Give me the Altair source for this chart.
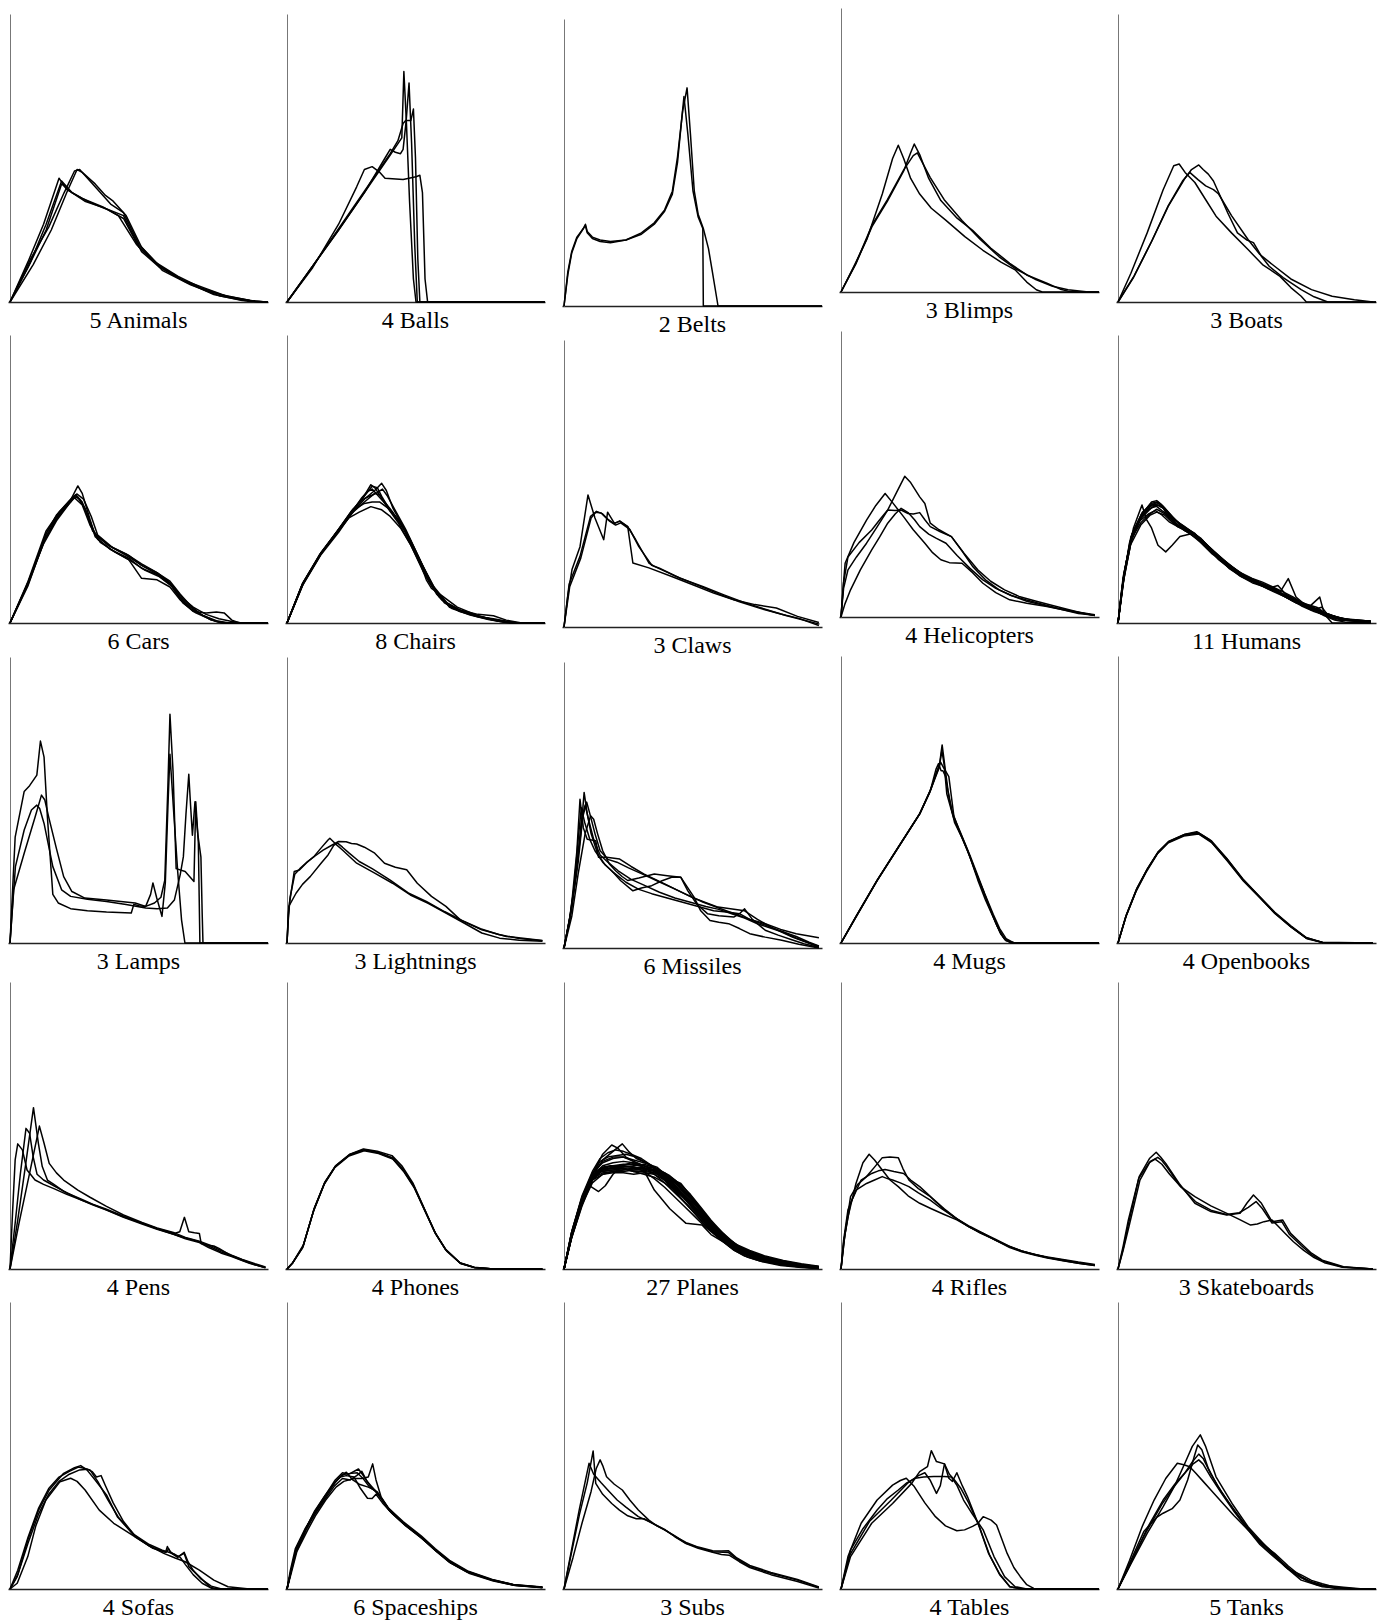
import altair as alt
import pandas as pd

# ---- curve data: (x in % of axis length, y in % of axis height) ----
ANIMALS = [
    [(0,0),(7,14),(13,27),(19,43),(22,39),(28,36),(36,33),(42,30),(49,20),(56,14),(65,9),(74,5),(82,2.5),(93,0.5),(99,0)],
    [(0,0),(8,14),(14,27),(20,42),(24,38),(30,35),(38,32),(44,29),(50,19),(57,13),(66,8),(75,5),(84,2),(95,0.3),(100,0)],
    [(0,0),(8,15),(15,26),(21,38),(25,45.5),(27,46),(31,42),(35,38),(39,34),(44,31),(50,20),(58,12.5),(68,7),(79,2.6),(90,0.5),(100,0)],
    [(0,0),(9,13),(16,25),(22,38),(26,46),(28,45),(33,41),(37,37),(40,35),(45,30),(51,19),(59,11),(70,6),(81,2.2),(92,0.3),(100,0)],
    [(0,0),(7,12),(14,25),(20,41),(24,38),(29,35),(37,32.5),(44,30),(51,17.5),(58,12),(67,7.5),(76,4),(86,1.5),(95,0.2),(100,0)],
]
BALLS = [
    [(0,0),(10,12),(20,27),(27,40),(30,46),(33,47),(36,45),(38,43),(45,42.5),(50,43.5),(51.5,44),(52.5,38),(53.5,8),(54.5,0),(100,0)],
    [(0,0),(10,12.5),(20,25),(30,38),(40,51),(43,55),(44.5,57),(45.3,80),(46.3,62),(47.5,35),(49,8),(50,0),(100,0)],
    [(0,0),(10,12.5),(20,25),(30,38),(38,50),(40,53),(42,52),(44,51.5),(45,53),(46.2,63),(47.3,76),(48.3,55),(49.5,20),(50.5,0),(100,0)],
    [(0,0),(10,12.5),(20,25.5),(30,38.5),(40,51.5),(43,56),(45,62),(46,63),(48,63),(49,67),(49.8,50),(50.7,15),(51.5,0),(100,0)],
]
BELTS = [
    [(0,0),(1.5,12),(3,19),(5,24),(7.5,27),(8.3,28.5),(9,26),(11,24),(14,23),(18,22.5),(24,23),(30,25),(35,28.5),(39,33),(42,39),(44,50),(45.5,64),(46.5,73),(48,60),(50,40),(52,31),(53.8,27),(54,0),(100,0)],
    [(0,0),(1.5,11),(3,18.5),(5,23.5),(7.5,27),(8.3,28),(9,25.5),(11,23.5),(14,22.5),(18,22),(24,23),(30,25.5),(35,29),(39,33.5),(42,40),(44,52),(46,68),(47.7,76),(49,60),(50.5,40),(52,32),(54,27),(56,20),(57.5,12),(59.7,0),(100,0)],
]
BLIMPS = [
    [(0,0),(5,9),(10,18.5),(16,34.5),(20,47),(22.2,51.7),(24.3,47),(27,40),(30.5,34.5),(35,29.5),(40.7,25.2),(48,19.5),(55,14.7),(62,10.5),(67.5,7.8),(72,3.5),(75.7,0.8),(78,0),(100,0)],
    [(0,0),(5.8,10),(12,23),(18,32),(24.3,42.6),(27,49),(28.4,52.1),(30.5,48.4),(34,40),(38.7,32.2),(45,26),(51,21.7),(58,15.5),(65.4,10.1),(72,6),(79.8,3.1),(85,1),(88,0.3),(92,0),(100,0)],
    [(0,0),(5.8,10.2),(12,23.5),(18,32.5),(24.3,43),(28,48),(29.6,49),(31,46.5),(34.6,40.3),(40,32.5),(46.9,25.2),(54,18.5),(61.3,12.4),(68,8),(75.7,4.3),(82,2),(88,0.8),(95,0.1),(100,0)],
]
BOATS = [
    [(0,0),(5,10),(11.3,24),(17.5,39),(21.6,47.3),(23.7,47.9),(26,45),(29.8,41.5),(34,35.5),(38,29.8),(44,24),(50.4,18.2),(56,13),(62.8,8.9),(67,5),(71,2),(73,0),(100,0)],
    [(0,0),(6.2,9),(13.4,21.7),(19.5,33.3),(25.7,42.6),(28.5,46),(31.3,47.6),(33,46),(35,44.4),(37,42),(39,38),(42.5,31),(46.3,24),(50,21.5),(52.5,20.6),(55.5,16),(58.6,12.4),(64,8.5),(71,4.3),(76,1.8),(81.3,0),(100,0)],
    [(0,0),(6,8.5),(13,21),(19.5,33.5),(25,42),(27.8,45),(31,42.5),(34,40.3),(37,39),(39,37.5),(44,30),(50.4,21.7),(55,16.5),(60.7,12.4),(67,8),(75,4.3),(83,2),(91.6,0.8),(98.8,0)],
]
CARS = [
    [(0,0),(7,14),(14,31),(18,37.5),(23.5,42.7),(26.3,47.6),(28,45),(31,36),(33,30.5),(39,26.5),(46,23.5),(51,20),(57,17.5),(62,14),(66,9),(70,5.5),(75,2.5),(80,0.5),(84,0),(100,0)],
    [(0,0),(7,13.5),(14,30),(18,36.5),(23.5,42),(25,44),(27,43),(30,38),(33,30),(39,25.5),(46,22.5),(51,19),(57,16.8),(62,13.5),(66,8.5),(70,5),(75,2.5),(80,0.8),(85,0),(100,0)],
    [(0,0),(7,13.8),(14,31),(18,37),(23.5,42.5),(25.5,44.5),(28,42),(31,35),(34,29),(40,25),(46,22),(51,15.5),(57,15),(62,12.5),(66,8),(71,4),(76,3.5),(80,3.8),(83,3.5),(86,1),(89,0),(100,0)],
    [(0,0),(7,13),(13,28),(18,36),(24,43),(26,44),(29,40),(32,32),(38,27),(45,24),(51,20.5),(56,18),(62,14.5),(66,10),(70,6),(74,3),(78,1),(83,0),(100,0)],
    [(0,0),(6,12),(13,27.5),(18,35.5),(23,41.5),(25,43.5),(28,41),(31,34),(35,28),(41,24.5),(47,21.5),(52,18.5),(58,16),(63,12.5),(67,7),(72,3.5),(77,1.5),(82,0),(100,0)],
    [(0,0),(7,14.5),(14,32),(19,38.5),(24,43.5),(26,44.8),(28.5,43),(31.5,37),(34,30.5),(40,26),(46,23),(52,19.5),(58,16.5),(63,13),(67,8.5),(71,5.5),(76,3),(81,1.5),(86,0.5),(90,0),(100,0)],
]
CHAIRS = [
    [(0,0),(6,13.7),(13,24),(20,32.3),(25.6,39.3),(29.8,44),(32.5,48),(34,47),(37,43),(41,38.5),(46,31.5),(52,20.5),(57.5,11.5),(63,5.5),(69,3.8),(75,2),(82,0.6),(89,0),(100,0)],
    [(0,0),(6.5,14),(13.5,24.5),(20.5,32.5),(26,39),(30,43),(34,46),(36.7,48.5),(38.5,46),(41,40),(45,33.5),(50,24),(55,14.5),(60,8),(66,4.5),(73,2.5),(80,1),(88,0),(100,0)],
    [(0,0),(6,13),(13,23.5),(20,31.5),(25,38),(30,42),(34,45),(36,44.5),(39,40),(43,35),(48,27),(53,17.5),(58,10),(64,5),(71,2.8),(78,1.2),(86,0),(100,0)],
    [(0,0),(6,13.5),(13,24),(19,31),(24,36.5),(28,38.5),(32.5,40.4),(36.7,39.3),(40,37),(44,33),(48,27),(52,20),(54,15),(56,12),(60,9.5),(66,5.5),(74,2.5),(82,0.8),(90,0),(100,0)],
    [(0,0),(6.3,13.8),(13.3,24.2),(20,32.5),(25.5,39),(29,43.5),(31,45.5),(33,46.5),(35.5,44),(38,41.5),(42,37),(46.5,31),(51.5,22),(56,13.5),(61,7.5),(67,4.5),(74,3),(80,2.5),(85,1),(91,0),(100,0)],
    [(0,0),(5.8,13),(13,23.8),(19.5,31.8),(25,38.5),(29.5,43.5),(33,47.5),(35,47),(37,43.5),(40,39),(44,35),(49,25.5),(54,16),(59,9),(64,5.3),(70,3.4),(77,1.8),(84,0.4),(90,0),(100,0)],
    [(0,0),(6,13.5),(12.5,23.5),(19.5,32),(25,38.8),(30,41.5),(33,42),(36,42),(39,40),(43,36),(47.5,29.5),(52,21),(57,12.5),(62,7),(68,4),(75,2.2),(83,0.5),(90,0),(100,0)],
    [(0,0),(6.2,14),(13.2,24.5),(20,32.5),(25.5,39.5),(29.5,43),(32,44),(34.5,45),(37,46.5),(39,44),(42,39),(46,32.5),(51,23),(56,13),(61,7),(67,4),(74,2.2),(80,1.5),(88,0.2),(100,0)],
]
CLAWS = [
    [(0,0),(1.5,11),(3.1,20),(6.2,28),(9.3,46),(12,38),(15.4,30.4),(16.9,40),(19.5,36.2),(21.6,36.8),(24.7,35),(26.7,22.3),(32.9,20.6),(42,17.5),(51.4,14.2),(58,11.8),(65.8,9.5),(74,7.8),(82.3,6.6),(90.5,3.7),(98.8,1.6)],
    [(0,0),(2,15),(6.2,24.6),(10.3,38.6),(12.3,40),(14.4,39.7),(17,37.5),(19.5,36),(21.6,37),(24.7,35),(27.8,30.4),(32.9,22.3),(35,21.1),(43,17.8),(52,14.5),(60,11.5),(68,8.8),(76,6.5),(84,4.5),(91,3),(98.8,0.5)],
    [(0,0),(2.2,14),(6.5,24),(10.5,38),(12.6,40.3),(14.8,39.5),(17.5,37),(20,35.5),(22,36.3),(25.5,34),(29,28),(34,21.5),(37,20.5),(45,17),(54,14),(62,11.2),(70,8.5),(78,6.2),(86,4),(92,2.6),(99,1)],
]
HELICOPTERS = [
    [(0,0),(1,10),(2.7,16.5),(6,21),(9.9,25.8),(14,31.5),(18.1,37.4),(21.5,43.5),(24.7,49.2),(27,47),(30.5,42),(32.5,39.7),(34.6,32.8),(38,30.5),(42.8,28.1),(47,23),(51,17.7),(56,13),(61.3,9.5),(66,7.5),(71.6,6),(78,4.5),(84,3.1),(91,1.8),(98.4,0.8)],
    [(0,0),(0.8,10),(1.6,18.8),(5,26),(9.9,33.9),(13.5,39),(17.1,43.2),(20,40),(24.3,35),(28,30.5),(32.5,25.8),(35.5,22.5),(38.7,20),(42,19),(46.9,18.8),(51,15.5),(55,11.8),(60,8.5),(65.4,6),(72,4.8),(79.8,3.7),(88,2.2),(98.4,0.5)],
    [(0,0),(1,12),(2.7,21),(7,26),(11.9,30.4),(15,34),(18.1,37.4),(21,37.2),(23.3,37.4),(26,36.2),(28,36),(30.5,36.5),(32.5,34),(34.6,31.6),(38.5,29.8),(42.8,28.1),(47.5,22.5),(53,16.5),(58,12.5),(63.4,9.5),(69,7.2),(75.7,5.5),(82,4),(88,2.6),(93,1.5),(98.4,0.5)],
    [(0,0),(1.5,4.5),(3.7,9.5),(7.5,16.5),(11.9,23.5),(15,28),(18.1,32.8),(21,36),(23.3,38),(26,36.5),(28.5,34),(30.5,31.6),(34,29),(37,27.5),(40.7,25.8),(45,21.5),(50,17),(55,13),(60,10),(66,7.5),(72,5.5),(79,4),(86,2.5),(92,1.2),(98.4,0.6)],
]
HUMANS = [
    [(0,0),(2,15),(5,30),(9,37),(13,41),(15.5,42),(18,40),(21,37),(25,33.5),(29.8,31.1),(34,27),(38,23),(42,20),(46.3,17.2),(50,15.5),(54.5,13.7),(58,12),(62.8,10.2),(67,8.5),(71,6.7),(75,5),(79,3.3),(83,2),(87.4,1.2),(97.7,0.5)],
    [(0,0),(3,20),(6,33),(9.3,41),(11,36),(13,33),(15.5,27),(18.5,24.7),(21,27),(24,30),(28.8,31.1),(32,28.5),(36,25),(41,21),(46,18),(51,15),(56,13),(61,11),(66,8.5),(71,6),(76,4),(81,2.5),(86,1.5),(92,1),(98,0.6)],
    [(0,0),(2.5,18),(5.5,31),(9,36.5),(12,39.5),(15,41),(17.5,40),(20,36),(23,33.5),(27,32),(31,30),(35,26),(39,22),(44,18.5),(49,16),(54,14),(59,12.5),(63,11),(66,15.4),(69,9),(73,6),(78,4),(83,2.5),(90,1),(98,0.7)],
    [(0,0),(2,16),(5,29),(9,35),(12.5,38),(15,39.5),(18,38),(22,35),(26,32),(30,30.5),(34,27.5),(39,23.5),(44,19.5),(49,16.5),(54,14.5),(59,12),(64,9.5),(69,7),(74,5.5),(78.2,9),(80,3),(83,0),(98,0)],
    [(0,0),(2,14),(5,28),(9.5,38),(13,42),(15,42.5),(17,41),(20,38),(24,34),(28,31.5),(32,29),(37,24.5),(42,20),(47,16.5),(52,14),(57,12.5),(62,10.5),(67,8),(72,6),(77,4),(82,3),(86,1.5),(91,1.2),(98,0.6)],
    [(0,0),(2.5,17),(6,32),(9.5,38.5),(13,41),(16,41.5),(18.5,39),(21.5,36),(25,34),(29,31.5),(33,28.5),(37.5,24.5),(42.5,20.5),(47.5,17.5),(52,15.5),(56,14.2),(60,12.5),(64,10.8),(68,9),(72,6.5),(76,4.5),(80,2.5),(84,1),(88,0.3),(98,0)],
    [(0,0),(1.5,12),(4.5,28),(8.5,35.5),(12,38),(14.5,39),(17,37.5),(20,35),(24,33),(28,31),(32,28),(36.5,24),(41,21),(46,18),(51,15.5),(55,14),(59,12.5),(63,10),(67,8.5),(71,7),(75,4.5),(79,5.5),(82,2),(85,1),(92,0.6),(98,0.3)],
    [(0,0),(2.2,16),(5.3,30),(9,37.5),(12.5,40.5),(15.5,41),(18,39.5),(21,36.5),(24.5,34),(28.5,31.5),(33,28),(38,23.5),(43,19),(48,16),(53,14),(58,12),(62,13),(65,10),(69,8),(73,6.5),(77,5.5),(81,3),(85,2),(90,1),(98,0.5)],
    [(0,0),(2,15),(5,29.5),(9,36.5),(13,40),(15,40.5),(17,39),(19.5,37.5),(23,34),(27,31.5),(31,29),(35.5,25.5),(40,22),(45,18.5),(50,15.5),(55,13.2),(60,11),(65,9),(70,7),(74,5),(78,3.5),(82,2.2),(86,1.2),(91,0.7),(98,0.4)],
    [(0,0),(2.3,17),(5.5,31),(9.2,38),(12.8,41.5),(15,42),(17.5,40.5),(20.5,37),(24,34.5),(28,32),(32,29.5),(36.5,25),(41.5,21.5),(46.5,18),(51.5,15),(56,13.3),(60.5,11.5),(65,9.5),(69.5,7.5),(74,5.8),(78.5,4),(82.5,2.8),(86.5,1.7),(92,0.8),(98,0.3)],
    [(0,0),(1.8,13),(4.8,27),(8.8,34),(12.5,37.5),(15,38.5),(18,37.5),(21,35),(25,33),(29,31),(33,28.5),(37.5,24.5),(42,21),(47,17.5),(52,15),(56.5,13.5),(61,11.5),(65.5,9.5),(70,7.5),(74.5,6),(79,4),(83,2.5),(87,1.5),(93,0.8),(98,0.4)],
]
LAMPS = [
    [(0,0),(2,37),(5.5,53),(7.6,55),(10.4,58.7),(11.8,70.6),(13.2,65),(14.5,44),(16.6,17),(18.7,14),(23.5,12),(30,11.3),(37.4,10.8),(47,10.5),(48,13.5),(50,13),(52.6,12.8),(54.5,17),(55.4,21),(56.8,16),(58.9,9.3),(60.2,21),(61.3,50),(62,66),(63.5,45),(65,25),(66.5,8),(67.8,0),(100,0)],
    [(0,0),(2.1,26.7),(5.5,39.5),(8.3,46.5),(10.4,48.2),(11.5,47),(13.2,41.8),(16.6,26.7),(20,18.6),(23.5,16.3),(30,15.3),(37.4,14.5),(45,13.5),(52.6,12.2),(57,12),(61,12.2),(63.7,15),(66,24),(67.2,30.2),(68.2,45),(69.3,59),(70,48),(70.7,37.7),(71.7,49.4),(72.8,38),(74,30),(74.5,10),(74.8,0),(100,0)],
    [(0,0),(1.4,18.6),(5.5,31.4),(9.7,44),(12.2,51.7),(13.5,50),(15,44),(18,33),(20.8,23.2),(24,18),(29,15.7),(37.4,15),(48.5,14),(52.6,12.8),(56,14),(58.5,16),(60,22),(61.2,55),(62,80),(63.2,60),(64.4,26),(67.9,25),(71.3,21.5),(72,49.4),(73,35),(73.6,0),(100,0)],
]
LIGHTNINGS = [
    [(0,0),(0.5,8),(1,14),(2.8,25),(4.8,25.5),(7.5,28),(10.4,30.2),(13,33),(15.9,36),(16.6,36.6),(19,34.5),(21.5,32.5),(27,27.9),(34,24.4),(40.9,20.9),(47.8,16.8),(54.7,13.9),(61.6,10.5),(68.6,7),(75.5,3.5),(82.4,1.7),(90,1),(99,0.6)],
    [(0,0),(0.5,10),(1.2,16),(3,24),(5,26),(8,28.5),(11,30.5),(14,32.5),(17,34),(20,35.5),(22.9,35.4),(25,34.8),(27,34.6),(30,33.5),(34,31.4),(37.8,27.9),(42,26.5),(46.4,25.6),(50.5,20.9),(56,16.3),(61.6,12.8),(67.2,8.1),(75.5,4.6),(85,2.3),(99,0.9)],
    [(0,0),(0.7,12.8),(3.5,17.4),(6,20.5),(9,23.2),(13.2,27.9),(15.9,30.8),(18,34),(19.5,35),(21.5,33.5),(24,31.5),(28,28.5),(33,26),(40,22),(47,17.5),(54,14.5),(61,11),(68,7.8),(75,5),(82,3),(90,1.6),(99,0.8)],
]
MISSILES = [
    [(0,0),(2,9),(3.1,16.6),(5,34),(6.2,52),(7.5,42),(9,38),(12.3,37.5),(13.4,31.7),(16.5,31.7),(21.6,31.1),(26,28.5),(30.9,25.9),(39,22.4),(49.4,17.8),(59.7,14.3),(70,13),(75,10),(80.2,7.3),(88.5,3.8),(98.8,0.3)],
    [(0,0),(2.5,12),(4.5,25),(6.5,40),(7.8,54.4),(9,47),(10.5,40),(13,33),(16,29),(18.5,27),(22,23.5),(26.7,20),(30,21),(34,21.8),(38,23.5),(42,24.8),(45.3,24.7),(48,21),(50.4,17.8),(53,13),(56.6,9.6),(60,9),(63.8,8.5),(68,6.8),(72,5),(78,3.8),(84.4,2.7),(91,1.3),(98.8,0)],
    [(0,0),(3,11),(5.5,26),(8.2,40),(10.3,46.2),(11.5,45),(13,40),(15,34),(17.5,29.5),(20,27),(22.5,25),(24.7,23.6),(29,24.5),(35,25.9),(40,25.3),(45.3,24.7),(48,20),(51.4,15.4),(55.6,12),(60,11.3),(65.8,10.8),(68,12),(70,13.7),(73,10),(78,6.2),(83,4.5),(88,3),(93,1.5),(98.8,0.2)],
    [(0,0),(2.2,10),(4,22),(5.5,38),(6.7,49),(8,44),(10,38),(12,34),(15,30),(19,26.5),(24,23),(29,20.5),(34,19),(40,17.5),(46,16),(52,14.5),(58,13),(64,12.5),(68,12),(72,10),(78,8.5),(84,6.5),(90,5),(95,4.2),(98.8,3.6)],
    [(0,0),(2.8,13),(4.8,27),(6.8,45),(8.2,50),(9.5,45),(11.5,38),(14,32.5),(17,30),(21,27),(26,24),(31,22),(37,19.5),(43,17.5),(49,16),(55,14.5),(60,13.5),(65,12),(70,10.5),(75,8.5),(80,7),(85,5.5),(90,3.5),(95,1.8),(98.8,0.5)],
    [(0,0),(3,14),(5.5,30),(7.3,46),(8.8,51),(10,47),(12,40),(14,34),(17,31),(20.5,30),(25,28),(30,26),(36,23.5),(42,21),(48,18.5),(54,16),(60,14),(66,12),(72,10),(78,8),(84,6),(90,4),(95,2),(98.8,0.7)],
]
MUGS = [
    [(0,0),(5.8,9.1),(14,21.8),(22.2,33.4),(30.5,45),(34.6,53.2),(37,59),(38.1,61.3),(39.1,67.1),(40,62),(41,52),(43.5,44),(46,38.5),(49,32.3),(52,25),(55.1,18.4),(58,11.5),(60,7),(62,3),(64,0.8),(67.5,0),(100,0)],
    [(0,0),(5.8,9),(14,21.7),(22.2,33.3),(30.5,45),(34.6,53),(36.8,60.5),(37.8,62.5),(38.8,60),(39.5,60),(40.5,58),(42,50),(44,42),(47,36.5),(50,30),(53,22),(56,15),(59,9),(61.5,4),(63.5,1.2),(66,0),(100,0)],
    [(0,0),(6,9.5),(14.2,22.2),(22.5,33.8),(30.7,45.3),(34.8,53.5),(37.2,60),(38.6,63),(39.8,61),(41.8,58),(43.8,43.9),(47,37),(50,30.5),(53,23.5),(56,16.5),(59,10),(61.5,5),(64,1.5),(67,0),(100,0)],
    [(0,0),(5.7,9),(13.8,21.5),(22,33),(30.3,44.7),(34.4,52.5),(36.5,57.5),(38,61),(39.2,69),(40.2,62),(41.5,53),(43,46),(45.5,40),(48.5,33.5),(51.5,26.5),(54.5,19.5),(57.5,12.5),(60.5,6),(63,2),(65.5,0.3),(68,0),(100,0)],
]
OPENBOOKS = [
    [(0,0),(3.1,9.3),(7.2,18.6),(11.3,25.6),(15.4,31.4),(19.5,35.1),(25.7,37.6),(30.9,38.3),(36,35.4),(42.2,29),(48.4,22),(54.5,16.3),(60.7,10.5),(66.9,5.8),(73,1.7),(79.2,0.2),(98.8,0)],
    [(0,0),(3.3,10),(7.4,19.2),(11.5,26),(15.6,31.8),(19.8,35.5),(26,37.9),(30.5,38.8),(35.5,36),(42,29.6),(48.2,22.4),(54.3,16.6),(60.5,10.8),(66.6,6),(72.8,1.9),(79,0.3),(98.8,0)],
    [(0,0),(2.9,8.8),(7,18),(11.1,25),(15.2,31),(19.3,34.8),(25.5,37.3),(31.2,38),(36.3,35),(42.4,28.6),(48.6,21.6),(54.7,16),(60.9,10.2),(67.1,5.5),(73.2,1.5),(79.4,0.2),(98.8,0)],
    [(0,0),(3.2,9.6),(7.3,18.9),(11.4,25.8),(15.5,31.6),(19.6,35.3),(25.8,37.8),(31,38.5),(36.1,35.7),(42.3,29.3),(48.5,22.2),(54.6,16.5),(60.8,10.7),(67,6),(73.1,1.8),(79.3,0.2),(98.8,0)],
]
PENS = [
    [(0,0),(1,20),(2,38),(3,43.6),(4.8,41.5),(6.6,34.5),(9.7,31),(13,29.5),(17,28),(22,26),(27.7,24),(32,22.5),(37.4,20.6),(44,18.2),(51.2,15.9),(57,14),(63.7,12),(68,10.8),(73.4,9.5),(77,8),(81.7,6),(86,4.5),(90,3),(95,1.5),(99,0.5)],
    [(0,0),(2,16),(4,33),(6.2,49),(7.6,47.3),(9,39),(10.5,33),(13,31),(17,29),(22,26.5),(27.7,24.3),(32,22.6),(37.4,20.8),(44,18.4),(51.2,16),(57,14.1),(63.7,12.4),(65.8,13),(67.6,18),(69.3,13),(71.5,12.6),(73.4,12.4),(74.1,8.9),(77,8.3),(79,8),(81,7.2),(85,5),(90,3.2),(95,1.6),(99,0.5)],
    [(0,0),(3,17),(6,36),(9.1,56.2),(11,43.8),(12.5,35.7),(14.5,31),(17,29.5),(21,27),(27.7,24),(32,22.4),(37.4,20.5),(44,18),(51.2,15.7),(57,13.8),(63.7,12),(68,10.5),(73.4,9.2),(77,7.5),(81.7,5.6),(85.9,4.3),(92.8,2),(99,0.4)],
    [(0,0),(3.5,16),(7.5,33),(11.4,49.8),(13.2,43.8),(15.2,36.8),(18,33.5),(20.8,31),(26.3,27.5),(31,25),(37.4,21.8),(44,18.8),(51.2,16.2),(57,14.3),(63.7,12.6),(68,11),(73.4,9.7),(77,8.5),(81.7,6.5),(85.9,4.8),(90,3.3),(95,1.8),(99,0.7)],
]
PHONES = [
    [(0,0),(2.1,2),(6.2,7.8),(10.4,20.6),(14.5,29.8),(18.7,35.7),(24.2,39.7),(29.8,41.5),(35.3,40.5),(40.9,38.6),(45,34.5),(49.2,28.7),(53.3,20.6),(57.5,12.4),(61.6,6.6),(67.2,2),(72.7,0.5),(80,0),(99,0)],
    [(0,0),(2.3,2.3),(6.4,8.5),(10.6,21.2),(14.7,30.3),(18.9,36),(24.4,40),(29.6,41.8),(35,41),(40.7,39.5),(44.5,36),(48.9,29.8),(53,21.5),(57.2,13),(61.3,7),(67,2.2),(72.5,0.6),(80,0),(99,0)],
    [(0,0),(1.9,1.8),(6,7.3),(10.2,20),(14.3,29.3),(18.5,35.3),(24,39.4),(29.9,41.2),(35.5,40.2),(41,38.3),(45.2,34),(49.5,28),(53.6,20),(57.8,12),(61.9,6.2),(67.5,1.8),(73,0.4),(80,0),(99,0)],
    [(0,0),(2.2,2.1),(6.3,8),(10.5,20.9),(14.6,30),(18.8,35.9),(24.3,39.9),(29.7,41.6),(35.2,40.7),(40.8,38.8),(44.8,35),(49,29.2),(53.2,21),(57.4,12.7),(61.5,6.8),(67.1,2.1),(72.6,0.5),(80,0),(99,0)],
]
PLANES = [
    [(0,0),(3,12),(7,24),(11,33),(15,40),(18.5,43.2),(21,42),(24,39),(28,37),(32,35.5),(36,33.5),(40,30),(45,25),(50,20),(55,15),(60,11),(65,7.5),(70,5),(76,3),(84,1.5),(92,0.7),(98.8,0.3)],
    [(0,0),(3,11),(7,23),(11,32),(15,38),(19,41),(22.6,43.6),(25,41),(28,38.5),(32,37),(36,35),(40,32),(45,27),(50,22),(55,16.5),(60,12),(65,8),(70,5.5),(76,3.5),(84,2),(92,1),(98.8,0.4)],
    [(0,0),(3,12.5),(7,24.5),(11,32),(14.4,34),(18,34.5),(22.6,34.5),(26,35),(30,35.5),(35,34.5),(40,32),(45.3,29.8),(50,24.5),(53.5,20.6),(57.5,16),(61.7,12.4),(65,9.5),(68,7.8),(72,6),(76,4.3),(80,3),(84.4,2),(92,1),(98.8,0.5)],
    [(0,0),(3,11.5),(7,23.5),(10,29),(13.4,27),(16,29),(19,33),(22.6,36),(26,37),(30,36),(35,27.5),(41,21),(47.3,15.9),(53.5,15.3),(57,12),(61.7,9.5),(66,6.5),(70,4.5),(76,2.8),(84,1.5),(92,0.7),(98.8,0.3)],
    [(0,0),(3,13),(7,25),(11,33.5),(15,37),(19,38.5),(23,39),(27,38),(31,37),(36,35.5),(41,31.5),(46,26),(51,21),(56,16),(61,12),(66,8),(71,5.5),(77,3.5),(84,2),(92,1),(98.8,0.4)],
    [(0,0),(3,12),(7,24),(11,32.5),(15,36),(19,37),(23,37.5),(27,37),(31,36),(36,34),(41,30),(46,25.5),(51,20),(56,14.5),(61,10),(66,6.5),(71,4.2),(77,2.5),(84,1.2),(92,0.5),(98.8,0.2)],
    [(0,0),(3,11),(7,22),(11,31),(15,35.5),(19,36),(23,35.5),(27,36),(31,36.5),(36,35),(41,32.5),(45,29.5),(49,26),(53,21.5),(57,17),(61.7,12.4),(66,9),(70,6.5),(76,4.5),(84.4,2.5),(92,1.3),(98.8,0.6)],
    [(0,0),(3,12.5),(7,24),(11,33),(14,37.5),(17,39),(20,39.5),(24,40),(28,39),(32,37),(36,34.5),(40,31.5),(44,28),(48,24),(52,19.5),(56,15),(60,11),(64,8),(68,6),(74,4),(80,2.5),(88,1.3),(98.8,0.4)],
    [(0,0),(3,12),(7,24),(11,32.5),(15,35),(19,35),(23,35),(27,34.5),(31,35),(35,34.5),(39,33),(43,30.5),(47,27),(51,23),(55,18),(59,14),(63,10.5),(67,8),(72,6),(78,4),(85,2.5),(92,1.4),(98.8,0.8)],
    [(0,0),(3,13),(7,25.5),(11,34),(14,38.5),(17,40.5),(20,41.5),(23,41),(26,40),(30,38.5),(34,36),(38,32.5),(42,28.5),(46,24),(50,20),(54,16),(58,12.5),(62,9.5),(66,7),(71,5),(77,3.2),(85,1.6),(98.8,0.4)],
    [(0,0),(3,11.5),(7,23),(11,31),(15,34.5),(19,35.5),(23,36),(27,35.5),(31,34),(35,31.5),(39,28.5),(43,25),(47,21.5),(51,18),(55,14.5),(59,11.5),(63,9),(67,7),(72,5),(78,3.3),(85,2),(92,1),(98.8,0.4)],
    [(0,0),(3,12),(7,24.5),(11,33),(15,37.5),(19,39),(23,39),(27,37.5),(31,36),(35,35),(39,33.5),(43,31),(47,27),(51,22.5),(55,17.5),(59,13),(63,9.5),(67,7),(72,5),(78,3.5),(84,2.5),(91,1.5),(98.8,0.8)],
    [(0,0),(3,12),(7,24),(11,31.5),(15,33.5),(19,34),(23,34),(27,34.5),(31,34.5),(35,33.5),(39,31.5),(43,28.5),(47,25),(51,21),(55,17),(59,13.5),(63,10.5),(67,8),(72,6),(78,4),(85,2.3),(92,1.2),(98.8,0.5)],
    [(0,0),(3,11.5),(7,23.5),(11,32),(15,34.5),(19,35),(23,35.5),(27,35.5),(31,35),(35,34),(39,32),(43,29),(47,25.5),(51,21.5),(55,17.5),(59,13.5),(63,10),(67,7.5),(72,5.5),(78,3.5),(85,2),(92,1),(98.8,0.4)],
    [(0,0),(3,12),(7,24),(11,31),(15,33),(19,33.5),(23,33.5),(27,33),(31,33.5),(35,33),(39,31),(43,28),(47,24),(51,20),(55,16),(59,12.5),(63,9.5),(67,7.5),(72,5.5),(78,3.8),(85,2.5),(92,1.5),(98.8,0.7)],
    [(0,0),(3,13),(7,25),(11,32.5),(15,35),(19,36),(23,36.5),(27,36.5),(31,35.5),(35,33),(39,30),(43,26.5),(47,23),(51,19.5),(55,16),(59,12.5),(63,9.5),(67,7),(72,5),(78,3.2),(85,1.8),(92,0.9),(98.8,0.3)],
    [(0,0),(3,11),(7,22.5),(11,30),(15,33),(19,34),(23,34.5),(27,35),(31,35),(35,34.5),(39,33),(43,30),(47,26.5),(51,22.5),(55,18.5),(59,14.5),(63,11),(67,8.5),(72,6.5),(78,4.5),(85,3),(92,1.8),(98.8,1)],
    [(0,0),(3,12.5),(7,24.5),(11,32.5),(15,34),(19,34.5),(23,35),(27,34),(31,33),(35,32),(39,30),(43,27.5),(47,24.5),(51,20.5),(55,16.5),(59,12.5),(63,9),(67,6.5),(72,4.5),(78,3),(85,1.8),(92,0.8),(98.8,0.3)],
    [(0,0),(3,12),(7,23.5),(11,31.5),(14,35),(18,36),(22,36),(26,35.5),(30,35),(34,34.5),(38,33),(42,31),(46,28),(50,24),(54,19.5),(58,15),(62,11),(66,8),(70,6),(76,4),(83,2.5),(91,1.3),(98.8,0.6)],
    [(0,0),(3,11.5),(7,23),(11,31.5),(15,34.5),(19,35.5),(23,35),(27,34),(31,34),(35,33.5),(39,32.5),(43,30),(47,26),(51,22),(55,18),(59,14),(63,10.5),(67,8),(72,6),(78,4.2),(85,2.8),(92,1.6),(98.8,0.8)],
]
RIFLES = [
    [(0,0),(1,9),(2.7,18.2),(5.8,29.8),(8.5,37),(10.9,40),(13,38),(16,34.5),(19,31),(22.2,28.7),(26,25.5),(30.5,22.9),(35,21),(40,19),(44.9,17.1),(50,14.5),(55.1,12.4),(60,10),(65.4,7.8),(70,6.3),(75.7,4.9),(80,4),(86,3.1),(92,2.2),(98.4,1.4)],
    [(0,0),(1.5,12),(3.7,25.2),(6.5,29.5),(9.9,32.2),(13,35.5),(16,38.8),(19,39),(22.2,38.8),(24,35),(26.3,31),(30,28),(34.6,25.2),(39,21.5),(44,18),(49,15),(54,12.5),(59,10.5),(64,8.3),(69,6.5),(74,5.2),(80,4.2),(86,3.3),(92,2.4),(98.4,1.6)],
    [(0,0),(1.5,12),(3.7,22.9),(7.8,31),(11.9,33.3),(14.5,34.2),(17.1,34.7),(20.5,34),(24.3,33.3),(27,31),(30.5,28.7),(35,25),(40,21),(45,17.5),(50,14.8),(55,12.5),(60,10.3),(65,8),(70,6.3),(75.7,5),(80,4),(86,3),(92,2),(98.4,1.2)],
    [(0,0),(1,10),(2.7,20.6),(5.8,27.5),(9.9,29.8),(13,31),(16,32.2),(18,31.5),(20,31),(23,30),(26.3,28.7),(30,26.5),(34.6,24),(39,21),(44.9,17.5),(50,14.5),(55.1,12.2),(60,10),(65.4,7.5),(70,6),(75.7,4.7),(80,3.8),(86,2.9),(92,2),(98.4,1.2)],
]
SKATEBOARDS = [
    [(0,0),(2,7),(4.1,15.9),(8.2,32.2),(12.3,38.6),(14.8,40.7),(16.5,39),(18.5,36.8),(23.7,29.8),(29.8,22.9),(36,20),(42.2,18.8),(47.3,19.4),(50,23),(52.5,25.8),(55.6,22.9),(59.7,16.5),(63.8,17.1),(66.9,12.4),(71,8.9),(75,5.5),(79.2,3.1),(87.4,0.8),(98.8,0)],
    [(0,0),(2,6.5),(4.3,15),(8.5,31),(12.5,37.5),(15.4,38.9),(17,37.8),(19,35.5),(24,29),(30,23.5),(36,20.5),(42,19),(47,19.6),(50.5,21.5),(53.5,23.5),(56,21),(59.7,16),(63.5,16.5),(66.5,12),(71,8.2),(75,5),(79.2,2.8),(87,0.7),(98.8,0)],
    [(0,0),(2,8),(4,17),(8,31.5),(12,37),(14.4,38.3),(17,36.5),(20,33),(24.5,28.5),(29.8,25.2),(36,22),(42.2,19.4),(47,17.3),(51.4,15.3),(54,15.7),(56.6,16.5),(59.7,17.1),(62,15),(64.8,12.4),(68,9.5),(72,6.5),(76,4),(80,2.2),(87,0.6),(98.8,0)],
]
SOFAS = [
    [(0,0),(2.8,4.3),(6.9,17.1),(11.1,27.5),(15.2,34.5),(20.8,40.3),(25,42.3),(27.4,43),(29.8,41.5),(33,38),(37.4,32.8),(41.6,25.2),(48.5,18.2),(55.4,14.2),(60.3,12.8),(61,14.8),(62,13),(65.1,11.3),(67.5,12.4),(69.3,7.8),(73.4,4.3),(77.6,0.6),(80,0),(100,0)],
    [(0,0),(3,5),(7,16),(11,26),(15,33),(19,37.5),(23,40),(27,41.5),(30,41.7),(31.9,40.9),(33.5,39),(35.3,39.5),(37,36),(40,30),(44,23.5),(48.5,18.5),(54,15),(58.5,13.3),(60.5,12.8),(61.5,14),(62.5,12.5),(65,11),(67.5,12.8),(69,9.5),(71,6.5),(74,3.5),(78,1),(82,0),(100,0)],
    [(0,0),(2.8,2),(6.9,11.3),(10,22),(13.9,31),(19.4,37.4),(23.5,38.6),(26,37.5),(29.1,34.5),(34.6,27.5),(40.2,22.9),(48.5,18.2),(54,15),(59.6,12.4),(64,10.8),(67.9,9.5),(73.4,6.6),(79,3.1),(84.5,0.8),(92.8,0),(100,0)],
    [(0,0),(3,6.5),(7,18),(11,28),(15,35),(19,39),(23,41),(26.5,42.5),(29,42),(31,41.5),(34,37.5),(38,31),(42,25),(48,19),(54,15.5),(59,13.5),(61,13),(64,12),(66,11),(68,8.5),(71,5),(74.5,2),(78,0.3),(82,0),(100,0)],
]
SPACESHIPS = [
    [(0,0),(1.4,5.5),(3.5,13.6),(7.6,21.7),(10.4,26.4),(14.5,32.2),(18.7,38),(21.5,40.5),(24,40),(27.7,41.8),(30,39),(33,35),(35.3,33.3),(39.5,27.5),(45,22.9),(51.9,18.2),(57.5,13.6),(63,9.5),(70,6),(79.6,3.1),(88,1.4),(99,0.6)],
    [(0,0),(1.2,6),(3.2,14),(7,21),(10,25),(14,31),(18,36.5),(20.5,39),(23,39.5),(26,39),(28.5,35),(31.2,31.6),(33,31.5),(34.5,33),(37,30),(40,27),(45,23),(52,18),(57.5,13.4),(63,9.3),(70,5.8),(79.6,3),(88,1.3),(99,0.5)],
    [(0,0),(1.5,5),(3.8,13),(8,20.5),(11,25.5),(15,31),(19,35.5),(22,37.5),(26,38.5),(29,38.5),(31.5,39),(33.2,43.6),(34.5,38),(36.5,32),(39.5,28),(45,23.5),(52,18.5),(57.5,14),(63,10),(70,6.3),(79.6,3.3),(88,1.5),(99,0.6)],
    [(0,0),(1.3,5),(3.4,12.5),(7.4,20.5),(10.4,25.5),(14.5,31),(18.5,36),(21.5,38.5),(24.5,38),(27,39.5),(29,41),(31,37.5),(33.5,35),(36,32),(40,27),(45.5,22.5),(52,17.8),(58,13.2),(63.5,9.2),(70.5,5.8),(80,3),(88.5,1.3),(99,0.5)],
    [(0,0),(1.6,6.5),(3.7,14.5),(7.8,22),(10.6,27),(14.7,32.5),(18.9,37.5),(21,39.2),(23,40.7),(25.5,38),(28,36.5),(31.5,35.5),(34,34.5),(37,31),(40.5,26.5),(46,22),(52.5,17.5),(58,13),(63.5,9),(70.5,5.5),(80,2.8),(88.5,1.2),(99,0.4)],
    [(0,0),(1.4,5.8),(3.5,13.8),(7.5,21.5),(10.3,26),(14.4,31.6),(18.6,37),(21.3,39.8),(24,40.2),(27.2,40.5),(29.5,38.5),(32,35.5),(35,33.8),(39,28.5),(44.5,23.5),(51.5,18.5),(57,14),(62.5,10),(69.5,6.3),(79,3.3),(87.5,1.6),(99,0.7)],
]
SUBS = [
    [(0,0),(3,13),(6,26),(9,37),(11.3,48.1),(12.3,36.8),(15,33),(18.5,29.8),(21.5,27.5),(24.7,25.5),(28,24.5),(31,24.5),(35,22.5),(39,20.6),(43,18.5),(47.3,15.9),(52,14.5),(57.6,13),(63.8,12.7),(67,10.5),(72,7.8),(80.2,5.5),(90.5,3.1),(98.8,0.5)],
    [(0,0),(3,14),(6,28),(9.7,43.8),(11.5,40),(14.4,37),(17.5,34),(20.6,31),(24,28.5),(28.8,25.2),(33,23.5),(39,20.8),(43,18.2),(47.3,15.8),(52,14.2),(57.6,12.8),(61,12),(64,11.8),(68,9.5),(72,7.5),(80.2,5),(90.5,2.6),(98.8,0.3)],
    [(0,0),(3.5,11),(7,23),(10.5,34),(12.5,42),(14,45),(15,43),(16.5,39.1),(19.5,36.5),(22.6,34.5),(25.5,31),(28.8,27.5),(32.9,24),(36,22),(39,20.6),(43,18.3),(47.3,16.2),(52,14.6),(57.6,13.3),(61,13.2),(63.8,13.3),(67,10.8),(72,8.2),(80.2,5.8),(90.5,3.3),(98.8,0.7)],
]
TABLES = [
    [(0,0),(2.7,11.3),(7.8,22.9),(14,31),(20,36.2),(23,37.8),(25.3,38.6),(28.4,35.7),(32.5,30),(36.6,25.2),(40.5,22),(44.9,20.3),(47.9,20.6),(51,21.8),(53.1,22.9),(55.1,25.2),(58.2,24),(60.3,22.3),(62.5,17),(64.4,12.4),(67,7.5),(69.5,4.3),(72,1.5),(74.7,0.2),(80,0),(100,0)],
    [(0,0),(3.7,11.3),(11.9,22.9),(20,29.8),(27.4,36.8),(30.5,40.9),(33.5,42.6),(35,48.2),(37,44.4),(40.1,43.6),(41.8,38.6),(43.2,37.5),(44.9,40.5),(47,36),(49,32.2),(53.1,22.9),(57.2,12.4),(61.3,5.5),(65.4,0.8),(70,0),(100,0)],
    [(0,0),(3.5,12),(11,23.5),(19.5,31),(26,37),(30,39.5),(32.5,40.5),(34.5,38),(37,33.3),(38.5,36),(40.1,43.6),(42,40),(44,38),(46.5,35),(49.5,30),(53.5,22),(57.5,12),(61.5,5),(65.5,0.8),(70,0),(100,0)],
    [(0,0),(3.7,13.6),(8.5,21),(14,27.5),(18,31.5),(22.2,34.5),(25.5,37),(28.8,38.6),(32,39),(36,39.2),(40,39.2),(42.8,39),(45,36),(47.5,31),(51,26),(55.1,20.6),(59.3,11.3),(63.4,4.3),(67.5,0.8),(72,0),(100,0)],
]
TANKS = [
    [(0,0),(5.1,8.9),(11.3,19.4),(17.5,28.7),(22,36),(26,44),(28.8,49.7),(31.9,53.7),(34,49.6),(38,39.1),(44.2,29.8),(50.4,21.7),(58.6,13.6),(64.8,7.8),(71,3.1),(79.2,0.8),(90,0),(100,0)],
    [(0,0),(5,9.5),(11,20),(17,29.5),(22,36),(26,40.5),(29,44.5),(31.3,47),(33,45.5),(36,40),(40,34),(45,27.5),(50.4,21),(55,16),(60.7,11.5),(66,7),(71,4),(77,1.5),(84,0.3),(92,0),(100,0)],
    [(0,0),(5.5,10),(11.5,21.5),(17.5,31),(22,36.5),(26,40.5),(29,43.5),(31.3,45),(33,43.5),(36,39),(40,33.5),(45,27),(50.4,20.6),(55,15.5),(60.7,11),(66,7),(71,4.9),(75,3),(79.2,1.8),(84,0.6),(92,0),(100,0)],
    [(0,0),(4.5,10),(9.5,22),(14,31),(18.5,38.5),(23,43.8),(25.5,43.3),(27.8,42.6),(30,40.5),(33,37.5),(36,34.5),(40,30.5),(45,25.5),(50.4,20.6),(55.5,16),(60.7,12.4),(66,8),(71,4.3),(75,2.5),(79.2,1.4),(87.4,0.6),(95,0),(100,0)],
    [(0,0),(5,10),(10,20),(15,25),(17.5,26.4),(21,28),(24,31),(27,38),(29.5,46),(30.9,50.2),(32.5,48.5),(35,42),(38.5,36),(43,30),(48,24),(53,18.5),(58.5,14),(64,9),(69,5),(74,2.5),(80,1),(87,0.3),(95,0),(100,0)],
]

LABELS = ["5 Animals", "4 Balls", "2 Belts", "3 Blimps", "3 Boats",
          "6 Cars", "8 Chairs", "3 Claws", "4 Helicopters", "11 Humans",
          "3 Lamps", "3 Lightnings", "6 Missiles", "4 Mugs", "4 Openbooks",
          "4 Pens", "4 Phones", "27 Planes", "4 Rifles", "3 Skateboards",
          "4 Sofas", "6 Spaceships", "3 Subs", "4 Tables", "5 Tanks"]
CURVES = [ANIMALS, BALLS, BELTS, BLIMPS, BOATS,
          CARS, CHAIRS, CLAWS, HELICOPTERS, HUMANS,
          LAMPS, LIGHTNINGS, MISSILES, MUGS, OPENBOOKS,
          PENS, PHONES, PLANES, RIFLES, SKATEBOARDS,
          SOFAS, SPACESHIPS, SUBS, TABLES, TANKS]
# vertical extent of each panel's axes (bottom, top) in px inside its grid cell
EXTENTS = [(294, 6), (294, 6), (298, 11), (284, 0), (294, 6),
           (293, 5), (293, 5), (297, 10), (287, 1), (293, 5),
           (291, 5), (291, 5), (296, 10), (291, 4), (291, 4),
           (295, 8), (295, 8), (295, 8), (295, 8), (295, 8),
           (293, 6), (293, 6), (293, 6), (293, 6), (293, 6)]

W, H = 260, 300
FONT = "Liberation Serif"


def panel(label, curves, ext):
    rows = []
    for ci, c in enumerate(curves):
        for oi, (x, y) in enumerate(c):
            rows.append({"c": ci, "o": oi, "x": x, "y": y})
    df = pd.DataFrame(rows)
    base, top = ext
    return alt.Chart(df).mark_line(color="black", strokeWidth=1.5, strokeJoin="round").encode(
        x=alt.X("x:Q",
                scale=alt.Scale(domain=[-0.775, 100], nice=False, zero=False),
                axis=alt.Axis(title=label, labels=False, ticks=False, grid=False,
                              domainColor="#222222", domainWidth=1.5, offset=base - H,
                              titleFont=FONT, titleFontSize=24, titleFontWeight="normal",
                              titleColor="black", titlePadding=25, titleBaseline="alphabetic")),
        y=alt.Y("y:Q",
                scale=alt.Scale(domain=[0, 100], range=[base, top], nice=False, zero=False),
                axis=alt.Axis(title=None, labels=False, ticks=False, grid=False,
                              domainColor="#777777", domainWidth=1, offset=-2)),
        detail="c:N",
        order="o:Q",
    ).properties(width=W, height=H)


charts = [panel(LABELS[i], CURVES[i], EXTENTS[i]) for i in range(25)]

chart = alt.ConcatChart(
    concat=charts, columns=5, spacing={"row": 22, "column": 17}, bounds="flush"
).properties(
    padding={"left": 0, "top": 0, "right": 5, "bottom": 5},
    background="white",
).configure_view(strokeWidth=0)

chart.save("out.html", embed_options={"renderer": "svg", "actions": False})
